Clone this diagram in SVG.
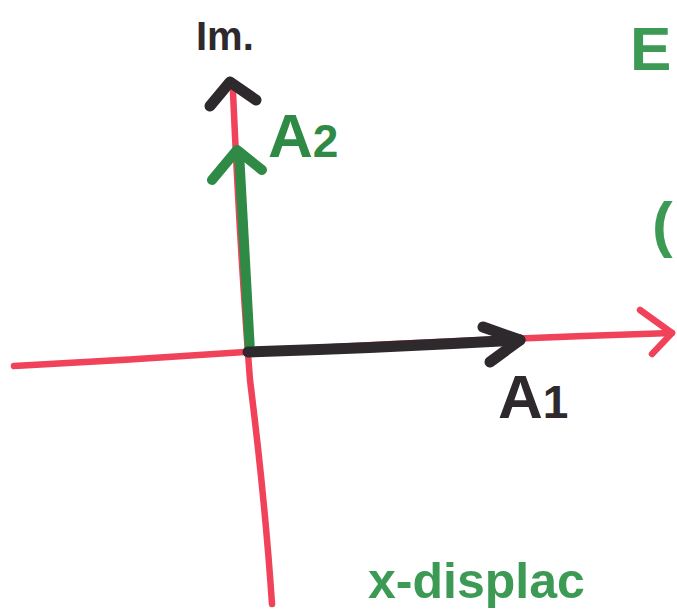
<svg xmlns="http://www.w3.org/2000/svg" width="677" height="612" viewBox="0 0 677 612">
<style>
.red{stroke:#f0435a;stroke-width:6.5;fill:none;stroke-linecap:round;stroke-linejoin:round}
.blk{stroke:#2d292c;stroke-width:11;fill:none;stroke-linecap:round;stroke-linejoin:round}
.grn{stroke:#2f8a45;stroke-width:10;fill:none;stroke-linecap:round;stroke-linejoin:round}
.t{font-family:"Liberation Sans",Arial,sans-serif;font-weight:bold}
</style>
<rect width="677" height="612" fill="#ffffff"/>
<g id="connectors">
<path class="red" d="M14 366 Q130 360 245 352 Q450 340 672 333"/>
<path class="red" d="M640 310 L672 333 L652 354"/>
<path class="red" d="M233 92 Q240 250 250 380 Q265 500 272 604"/>
<path class="grn" d="M250 352 Q244 250 239 152"/>
<path class="grn" d="M212 180 L237 150 L262 170"/>
<path class="blk" d="M248 352 Q380 348 520 340"/>
<path class="blk" d="M483 327 L520 340 L490 362"/>
<path class="blk" d="M210 106 L230 82 L256 100"/>
</g>
<g id="label-im"><text class="t" x="196" y="50" font-size="40" fill="#2d292c">Im.</text></g>
<g id="label-a2"><text class="t" x="268" y="157" font-size="62" fill="#2f8a45">A<tspan font-size="46">2</tspan></text></g>
<g id="label-a1"><text class="t" x="498" y="418" font-size="62" fill="#2d292c">A<tspan font-size="46">1</tspan></text></g>
<g id="label-e"><text class="t" x="630" y="70" font-size="62" fill="#3d9a55">E</text></g>
<g id="label-paren"><text class="t" x="652" y="245" font-size="62" fill="#3d9a55">(</text></g>
<g id="label-x"><text class="t" x="368" y="598" font-size="50" fill="#3d9a55">x-displac</text></g>
</svg>
